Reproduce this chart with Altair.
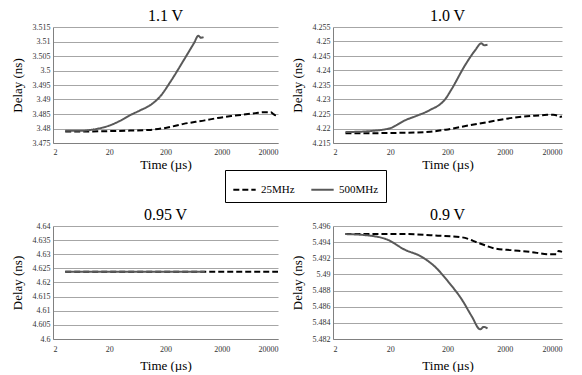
import altair as alt
import pandas as pd

SERIES = ["25MHz", "500MHz"]
X_TICKS = [2, 20, 200, 2000, 20000]
FONT = "Times New Roman, Liberation Serif, serif"

# ---- 1.1 V ----
t25_11 = [3.3, 10, 20, 50, 100, 200, 420, 1000, 1670, 3000, 4400, 8000, 11000, 14900, 16500, 18000, 20000]
d25_11 = [3.4790, 3.4790, 3.4791, 3.4793, 3.4795, 3.4802, 3.4816, 3.4828, 3.4836, 3.4843, 3.4847, 3.4853, 3.4856, 3.4856, 3.4850, 3.4846, 3.4848]
t500_11 = [3.3, 6, 10, 15, 20, 30, 47, 70, 110, 160, 250, 420, 640, 770, 850, 950]
d500_11 = [3.4792, 3.4792, 3.4796, 3.4803, 3.4810, 3.4825, 3.4846, 3.4862, 3.4882, 3.4910, 3.4964, 3.5035, 3.5094, 3.5120, 3.5113, 3.5115]
yt_11 = [3.475, 3.48, 3.485, 3.49, 3.495, 3.5, 3.505, 3.51, 3.515]

# ---- 1.0 V ----
t25_10 = [3.3, 10, 30, 100, 187, 480, 1000, 2160, 4900, 8000, 11000, 14000, 16500, 18000, 20000]
d25_10 = [4.2184, 4.2184, 4.2185, 4.2189, 4.2196, 4.2211, 4.2222, 4.2234, 4.2242, 4.2245, 4.2247, 4.2247, 4.2245, 4.2240, 4.2241]
t500_10 = [3.3, 6, 10, 15, 20, 36, 60, 95, 187, 235, 405, 610, 780, 870, 1000]
d500_10 = [4.2188, 4.2189, 4.2192, 4.2196, 4.2201, 4.2228, 4.2245, 4.2262, 4.2304, 4.2335, 4.2418, 4.2470, 4.2494, 4.2487, 4.2489]
yt_10 = [4.215, 4.22, 4.225, 4.23, 4.235, 4.24, 4.245, 4.25, 4.255]

# ---- 0.95 V ----
t25_095 = [3.3, 10, 100, 1000, 10000, 20000]
d25_095 = [4.6238, 4.6238, 4.6238, 4.6238, 4.6238, 4.6238]
t500_095 = [3.3, 10, 100, 1000]
d500_095 = [4.6238, 4.6238, 4.6238, 4.6238]
yt_095 = [4.6, 4.605, 4.61, 4.615, 4.62, 4.625, 4.63, 4.635, 4.64]

# ---- 0.9 V ----
t25_09 = [3.3, 35, 136, 355, 700, 1370, 2720, 5400, 12200, 15900, 17500, 20000]
d25_09 = [5.4950, 5.4950, 5.4948, 5.4946, 5.4939, 5.4932, 5.4930, 5.4928, 5.4925, 5.4925, 5.4929, 5.4928]
t500_09 = [3.3, 9, 18, 35, 70, 119, 206, 355, 532, 744, 860, 1000]
d500_09 = [5.4950, 5.4948, 5.4943, 5.4931, 5.4922, 5.4910, 5.4891, 5.4869, 5.4848, 5.4832, 5.4835, 5.4833]
yt_09 = [5.482, 5.484, 5.486, 5.488, 5.49, 5.492, 5.494, 5.496]


def panel(title, t25, d25, t500, d500, yticks, w, h, xlabel_pad, xtitle_pad):
    df = pd.concat([
        pd.DataFrame({"t": t25, "d": d25, "s": SERIES[0]}),
        pd.DataFrame({"t": t500, "d": d500, "s": SERIES[1]}),
    ])
    return alt.Chart(df).mark_line(strokeWidth=2, interpolate="monotone").encode(
        x=alt.X("t:Q",
                scale=alt.Scale(type="log", domain=[X_TICKS[0], X_TICKS[-1]], nice=False),
                axis=alt.Axis(values=X_TICKS, format="d", title="Time (µs)", grid=False,
                              ticks=False, labelPadding=xlabel_pad, titlePadding=xtitle_pad,
                              labelFont=FONT, titleFont=FONT, labelFontSize=8,
                              titleFontSize=13, titleFontWeight="normal",
                              labelColor="#333333", titleColor="#000000",
                              domainColor="#808080")),
        y=alt.Y("d:Q",
                scale=alt.Scale(domain=[yticks[0], yticks[-1]], nice=False, zero=False),
                axis=alt.Axis(values=yticks, format="~g", title="Delay (ns)", grid=True,
                              ticks=False, labelPadding=3, titlePadding=8,
                              labelFont=FONT, titleFont=FONT, labelFontSize=8,
                              titleFontSize=13, titleFontWeight="normal",
                              labelColor="#333333", titleColor="#000000",
                              domainColor="#808080", gridColor="#a6a6a6")),
        color=alt.Color("s:N", scale=alt.Scale(domain=SERIES, range=["#000000", "#595959"]),
                        legend=alt.Legend(title=None)),
        strokeDash=alt.StrokeDash("s:N", scale=alt.Scale(domain=SERIES, range=[[6, 3], [1, 0]]),
                                  legend=alt.Legend(title=None)),
    ).properties(width=w, height=h, title=alt.TitleParams(title, font=FONT, fontSize=16,
                                                          fontWeight="normal", color="#000000",
                                                          offset=-1))


p1 = panel("1.1 V", t25_11, d25_11, t500_11, d500_11, yt_11, 225, 116, 5, 2)
p2 = panel("1.0 V", t25_10, d25_10, t500_10, d500_10, yt_10, 229, 116, 5, 2)
p3 = panel("0.95 V", t25_095, d25_095, t500_095, d500_095, yt_095, 225, 113, 6, 6)
p4 = panel("0.9 V", t25_09, d25_09, t500_09, d500_09, yt_09, 229, 113, 6, 6)

chart = alt.concat(
    p1, p2, p3, p4, columns=2, bounds="flush",
    spacing={"row": 83, "column": 55},
).properties(
    padding={"left": 3, "top": 0, "right": 0, "bottom": 0}
).configure(
    font=FONT,
    style={
        "guide-label": {"font": FONT},
        "guide-title": {"font": FONT, "fontWeight": "normal"},
    },
).configure_axis(
    labelFont=FONT, titleFont=FONT, titleFontWeight="normal"
).configure_view(stroke=None).configure_legend(
    orient="none", legendX=172, legendY=143, direction="horizontal",
    strokeColor="#000000", padding=7, labelFont=FONT, labelFontSize=11,
    labelColor="#000000", symbolType="stroke", symbolStrokeWidth=2, symbolSize=500,
    columnPadding=12,
)

chart.save("out.html", embed_options={"renderer": "svg", "actions": False})
